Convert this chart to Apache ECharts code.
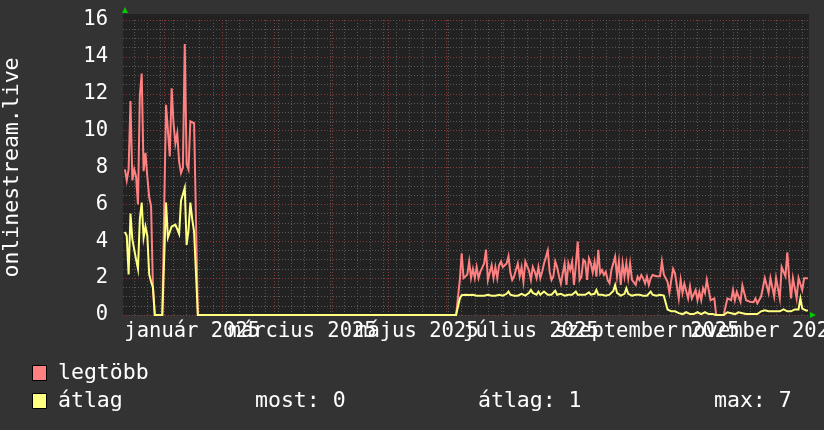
<!DOCTYPE html>
<html><head><meta charset="utf-8">
<script src="https://cdn.jsdelivr.net/npm/echarts@6/dist/echarts.min.js"></script>
<style>html,body{margin:0;padding:0;background:#333333;} #c{width:824px;height:430px;}</style>
</head><body><div id="c"></div>
<script>
// ---- data (daily values, day 0 = 2024-12-10) ----
const startDate = Date.UTC(2024, 11, 10);
const DAY = 86400000;
const rangeDays = 366.6;
const lastDay = 366;
const seriesNames = ['legtöbb', 'átlag'];
const xLabelTexts = ['január 2025', 'március 2025', 'május 2025', 'július 2025', 'szeptember 2025', 'november 2025'];
const xLabelDates = [[2025, 0, 16], [2025, 2, 16], [2025, 4, 16], [2025, 6, 16], [2025, 8, 16], [2025, 10, 16]];
const yTickLabels = ['0', '2', '4', '6', '8', '10', '12', '14', '16'];
const statTexts = ['most: 0', 'átlag: 1', 'max: 7'];

const seg1Start = 1;
const seg1Max = [7.9, 7.3, 7.9, 11.6, 7.3, 7.9, 7.5, 6.0, 11.9, 13.1, 7.8, 8.8, 7.5, 6.4, 5.9, 1.5];
const seg1Avg = [4.5, 4.3, 2.2, 5.5, 4.1, 4.2, 3.0, 2.5, 5.2, 6.1, 4.2, 4.8, 4.3, 2.2, 1.8, 1.5];

const seg2Start = 23;
const seg2Max = [11.4, 11.4, 8.6, 12.3, 10.4, 9.3, 9.85, 8.3, 7.7, 8.0, 14.7, 8.2, 7.9, 10.5, 10.4, 10.4, 10.4];
const seg2Avg = [6.1, 4.2, 4.2, 4.8, 4.9, 4.9, 4.9, 4.4, 6.2, 6.2, 6.9, 3.8, 4.6, 6.1, 5.2, 4.5, 4.5];

const seg3Start = 180;
const seg3Max = [
  1.9,
  3.35, 2.0, 2.0, 2.2, 2.9, 2.0, 2.5, 2.0, 2.6,
  2.0, 2.35, 2.35, 2.8, 3.55, 1.9, 1.9, 2.7, 2.0, 2.6,
  2.0, 2.7, 2.9, 2.6, 2.5, 2.8, 3.2, 2.3, 1.9, 2.1,
  2.45, 2.8, 2.1, 2.6, 1.8, 2.9, 3.0, 2.4, 1.9, 2.6,
  2.35, 2.0, 2.6, 2.0, 2.35, 2.8, 2.7, 3.5, 2.35, 1.9,
  2.1, 2.9, 2.6, 2.1, 1.7, 1.63, 2.8, 1.63, 2.8, 2.44,
  2.89, 1.63, 2.71, 3.98, 1.9, 2.08, 3.0, 2.89, 1.9, 3.07,
  2.8, 2.3, 2.89, 2.08, 3.53, 2.26, 2.44, 2.17, 2.35, 1.9,
  1.72, 2.44, 2.8, 3.16, 2.08, 2.89, 1.63, 2.8, 2.08, 2.8,
  1.99, 2.8, 1.9, 1.99, 1.63, 2.08, 1.9, 2.17, 1.99, 1.72,
  2.08, 1.63, 1.99, 2.17,
  2.1, 2.1, 2.1, 2.1, 2.9, 2.2, 2.25,
  1.8, 1.2, 1.9, 2.5, 2.25, 2.25, 0.9, 1.9, 1.2, 1.7,
  1.7, 0.9, 1.55, 0.9, 0.9, 1.35, 0.8, 1.25, 0.8, 1.45,
  1.2, 1.9, 1.9, 0.8, 0.9, 0.9, 0, 0, 0, 0,
  0, 0, 0.9, 0.8, 0.8, 1.35, 0.8, 1.25, 1.25, 0.72,
  1.6, 1.6, 0.8, 0.72, 0.72, 0.7, 0.7, 0.9, 0.63, 0.63,
  1.0, 1.0, 2.0, 2.0, 1.2, 2.0, 2.0, 1.0, 2.0, 2.0,
  0.9, 2.6, 2.6, 2.1, 3.4, 2.0, 0.9, 2.0, 2.0, 0.9,
  2.0, 2.0, 1.35, 2.0, 2.0, 2.0
];
const seg3Avg = [
  0.9,
  1.08, 1.05, 1.1, 1.05, 1.08, 1.05, 1.1, 1.05, 1.05,
  1.1, 1.05, 1.12, 1.05, 1.05, 1.1, 1.05, 1.05, 1.1, 1.05,
  1.12, 1.1, 1.05, 1.05, 1.1, 1.15, 1.27, 1.1, 1.05, 1.05,
  1.1, 1.05, 1.05, 1.15, 1.1, 1.05, 1.15, 1.2, 1.36, 1.2,
  1.15, 1.1, 1.27, 1.1, 1.15, 1.27, 1.2, 1.1, 1.15, 1.1,
  1.2, 1.32, 1.1, 1.05, 1.15, 1.1, 1.05, 1.1, 1.1, 1.15,
  1.1, 1.15, 1.27, 1.1, 1.05, 1.1, 1.15, 1.1, 1.05, 1.23,
  1.1, 1.1, 1.15, 1.36, 1.1, 1.05, 1.1, 1.15, 1.05, 1.05,
  1.1, 1.1, 1.3, 1.63, 1.2, 1.1, 1.05, 1.1, 1.15, 1.45,
  1.15, 1.1, 1.05, 1.05, 1.1, 1.15, 1.1, 1.05, 1.05, 1.1,
  1.05, 1.1, 1.27, 1.1,
  1.05, 1.05, 1.05, 1.1, 1.05, 1.05, 1.0,
  0.3, 0.2, 0.2, 0.3, 0.2, 0.15, 0.1, 0.1, 0.05, 0.05,
  0.15, 0.05, 0.05, 0.05, 0.05, 0.05, 0.15, 0.05, 0.05, 0.05,
  0.15, 0.05, 0.05, 0.15, 0.05, 0.05, 0, 0, 0, 0,
  0, 0, 0.15, 0.1, 0.1, 0.15, 0.05, 0.1, 0.15, 0.05,
  0.1, 0.15, 0.05, 0.05, 0.05, 0.05, 0.05, 0.05, 0.05, 0.05,
  0.2, 0.2, 0.25, 0.2, 0.2, 0.25, 0.2, 0.2, 0.2, 0.25,
  0.2, 0.2, 0.3, 0.2, 0.2, 0.25, 0.2, 0.2, 0.3, 0.2,
  0.3, 0.9, 0.35, 0.3, 0.25, 0.25
];

// ---- build series (days outside segments are zero) ----
function buildSeries(segs) {
  const out = [];
  for (let d = 1; d <= lastDay; d++) {
    let v = 0;
    for (const [s, arr] of segs) {
      if (d >= s && d < s + arr.length) v = arr[d - s];
    }
    out.push([startDate + d * DAY, v]);
  }
  return out;
}
const maxData = buildSeries([[seg1Start, seg1Max], [seg2Start, seg2Max], [seg3Start, seg3Max]]);
const avgData = buildSeries([[seg1Start, seg1Avg], [seg2Start, seg2Avg], [seg3Start, seg3Avg]]);

const xMin = startDate, xMax = startDate + rangeDays * DAY;
const monthTicks = [];
for (let m = 0; m < 12; m++) monthTicks.push(Date.UTC(2025, m, 1));
const weekTicks = [];
for (let t = Date.UTC(2024, 11, 16); t <= xMax; t += 7 * DAY) weekTicks.push(t);
const labelVals = xLabelDates.map(a => Date.UTC(a[0], a[1], a[2]));
const labelMap = {};
labelVals.forEach((v, i) => { labelMap[v] = xLabelTexts[i]; });
// labels alternate between two axes so overlapping neighbours are all kept
const labelsA = labelVals.filter((v, i) => i % 2 === 0);
const labelsB = labelVals.filter((v, i) => i % 2 === 1);

const FONT = 'DejaVu Sans Mono';
const RED = '#ff8080', YEL = '#ffff80';
const MINOR = '#585858', MAJOR = '#8a3838';
const TXT = '21.5px "DejaVu Sans Mono"';
const xLabelStyle = {
  show: true, formatter: v => labelMap[v] || '',
  showMinLabel: true, showMaxLabel: true, hideOverlap: false,
  color: '#ffffff', fontFamily: FONT, fontSize: 20.5, margin: 6
};

const chart = echarts.init(document.getElementById('c'), null, {renderer: 'canvas'});
chart.setOption({
  backgroundColor: '#333333',
  animation: false,
  grid: [
    {left: 123, right: 15, top: 14, bottom: 115, show: true, backgroundColor: '#222222', borderWidth: 0, outerBoundsMode: 'none', containLabel: false},
    {left: 123, right: 15, top: 20, bottom: 115, show: false, outerBoundsMode: 'none', containLabel: false}
  ],
  xAxis: [
    {
      type: 'value', gridIndex: 1, position: 'bottom', min: xMin, max: xMax,
      axisLine: {show: true, symbol: ['none', 'triangle'], symbolSize: [6, 6], symbolOffset: [0, 4], lineStyle: {color: '#00cc00', width: 0}},
      axisTick: {show: false, customValues: weekTicks},
      axisLabel: Object.assign({customValues: labelsB}, xLabelStyle),
      splitLine: {show: true, lineStyle: {color: MINOR, width: 1, type: [1, 2]}}
    },
    {
      type: 'value', gridIndex: 1, position: 'bottom', min: xMin, max: xMax,
      axisLine: {show: false},
      axisTick: {show: false, customValues: monthTicks},
      axisLabel: Object.assign({customValues: labelsA}, xLabelStyle),
      splitLine: {show: true, lineStyle: {color: MAJOR, width: 1, type: [1, 2]}}
    }
  ],
  yAxis: [
    {
      type: 'value', gridIndex: 1, position: 'left', min: 0, max: 16, interval: 2,
      axisLine: {show: false}, axisTick: {show: false},
      axisLabel: {color: '#ffffff', fontFamily: FONT, fontSize: 20.5, margin: 15,
        formatter: (v) => yTickLabels[Math.round(v / 2)] || ''},
      splitLine: {show: true, lineStyle: {color: MAJOR, width: 1, type: [1, 2]}},
      minorTick: {show: false, splitNumber: 4},
      minorSplitLine: {show: true, lineStyle: {color: MINOR, width: 1, type: [1, 2]}},
      name: 'onlinestream.live', nameLocation: 'middle', nameGap: 100,
      nameTextStyle: {color: '#ffffff', fontFamily: FONT, fontSize: 21.5}
    },
    {
      type: 'value', gridIndex: 1, position: 'left', offset: -2, min: 0, max: 16,
      axisLine: {show: true, symbol: ['none', 'triangle'], symbolSize: [6, 6], symbolOffset: [0, 10], lineStyle: {color: '#00cc00', width: 0}},
      axisTick: {show: false}, axisLabel: {show: false}, splitLine: {show: false}
    }
  ],
  series: [
    {type: 'line', name: seriesNames[0], xAxisIndex: 1, yAxisIndex: 0, data: maxData,
      symbol: 'none', showSymbol: false, lineStyle: {color: RED, width: 2, join: 'miter'}, itemStyle: {color: RED}, z: 3},
    {type: 'line', name: seriesNames[1], xAxisIndex: 1, yAxisIndex: 0, data: avgData,
      symbol: 'none', showSymbol: false, lineStyle: {color: YEL, width: 2, join: 'miter'}, itemStyle: {color: YEL}, z: 4}
  ],
  graphic: [
    {type: 'rect', shape: {x: 32.5, y: 365.5, width: 14, height: 15}, style: {fill: RED, stroke: '#000', lineWidth: 1}},
    {type: 'text', x: 58, y: 373, style: {text: seriesNames[0], fill: '#fff', font: TXT, verticalAlign: 'middle'}},
    {type: 'rect', shape: {x: 32.5, y: 393.5, width: 14, height: 15}, style: {fill: YEL, stroke: '#000', lineWidth: 1}},
    {type: 'text', x: 58, y: 401, style: {text: seriesNames[1], fill: '#fff', font: TXT, verticalAlign: 'middle'}},
    {type: 'text', x: 255, y: 401, style: {text: statTexts[0], fill: '#fff', font: TXT, verticalAlign: 'middle'}},
    {type: 'text', x: 478, y: 401, style: {text: statTexts[1], fill: '#fff', font: TXT, verticalAlign: 'middle'}},
    {type: 'text', x: 714, y: 401, style: {text: statTexts[2], fill: '#fff', font: TXT, verticalAlign: 'middle'}}
  ]
});
</script></body></html>
